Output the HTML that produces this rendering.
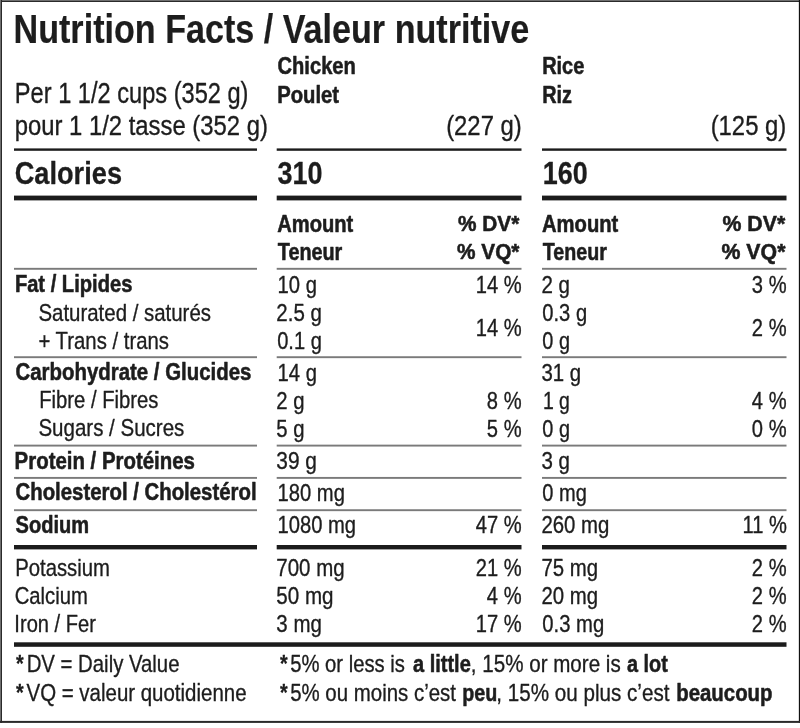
<!DOCTYPE html>
<html><head><meta charset="utf-8"><title>Nutrition Facts / Valeur nutritive</title>
<style>
html,body{margin:0;padding:0;background:#fff;}
body{width:800px;height:728px;overflow:hidden;font-family:"Liberation Sans",sans-serif;}
svg{display:block;position:absolute;left:0;top:0;will-change:transform;filter:grayscale(1);}
svg text{font-family:"Liberation Sans",sans-serif;fill:#1d1d1d;stroke:#1d1d1d;stroke-linejoin:round;white-space:pre;}
</style></head><body>
<svg width="800" height="728" viewBox="0 0 800 728">
<rect x="0" y="0" width="800" height="728" fill="#fff"/>
<rect x="0" y="0" width="800" height="1" fill="#6f6f6f"/>
<rect x="0" y="1" width="800" height="1" fill="#2a2a2a"/>
<rect x="0" y="0" width="1" height="722.9" fill="#6f6f6f"/>
<rect x="1" y="0" width="1" height="722.9" fill="#2a2a2a"/>
<rect x="798.85" y="0" width="1.15" height="722.9" fill="#111"/>
<rect x="0" y="720.9" width="800" height="2" fill="#2a2a2a"/>
<rect x="14" y="148.4" width="243" height="2.4" fill="#1c1c1c"/>
<rect x="276.7" y="148.4" width="244.8" height="2.4" fill="#1c1c1c"/>
<rect x="542" y="148.4" width="244.5" height="2.4" fill="#1c1c1c"/>
<rect x="14" y="195.6" width="243" height="4.8" fill="#1c1c1c"/>
<rect x="276.7" y="195.6" width="244.8" height="4.8" fill="#1c1c1c"/>
<rect x="542" y="195.6" width="244.5" height="4.8" fill="#1c1c1c"/>
<rect x="14" y="267.85" width="243" height="1.9" fill="#7a7a7a"/>
<rect x="276.7" y="267.85" width="244.8" height="1.9" fill="#7a7a7a"/>
<rect x="542" y="267.85" width="244.5" height="1.9" fill="#7a7a7a"/>
<rect x="14" y="356.25" width="243" height="1.9" fill="#7a7a7a"/>
<rect x="276.7" y="356.25" width="244.8" height="1.9" fill="#7a7a7a"/>
<rect x="542" y="356.25" width="244.5" height="1.9" fill="#7a7a7a"/>
<rect x="14" y="444.65" width="243" height="1.9" fill="#7a7a7a"/>
<rect x="276.7" y="444.65" width="244.8" height="1.9" fill="#7a7a7a"/>
<rect x="542" y="444.65" width="244.5" height="1.9" fill="#7a7a7a"/>
<rect x="14" y="476.95" width="243" height="1.9" fill="#7a7a7a"/>
<rect x="276.7" y="476.95" width="244.8" height="1.9" fill="#7a7a7a"/>
<rect x="542" y="476.95" width="244.5" height="1.9" fill="#7a7a7a"/>
<rect x="14" y="509.25" width="243" height="1.9" fill="#7a7a7a"/>
<rect x="276.7" y="509.25" width="244.8" height="1.9" fill="#7a7a7a"/>
<rect x="542" y="509.25" width="244.5" height="1.9" fill="#7a7a7a"/>
<rect x="14" y="545.0" width="243" height="4.4" fill="#1c1c1c"/>
<rect x="276.7" y="545.0" width="244.8" height="4.4" fill="#1c1c1c"/>
<rect x="542" y="545.0" width="244.5" height="4.4" fill="#1c1c1c"/>
<rect x="14" y="642.3" width="772.5" height="4.5" fill="#1c1c1c"/>
<text transform="translate(13.52 43.00) scale(0.8387 1)" font-size="40.70" font-weight="700" stroke-width="0.2">Nutrition Facts / Valeur nutritive</text>
<text transform="translate(14.85 103.00) scale(0.8250 1)" font-size="28.63" font-weight="400" stroke-width="0.35">Per 1 1/2 cups (352 g)</text>
<text transform="translate(14.64 135.00) scale(0.8643 1)" font-size="27.62" font-weight="400" stroke-width="0.35">pour 1 1/2 tasse (352 g)</text>
<text transform="translate(277.50 74.00) scale(0.8667 1)" font-size="23.26" font-weight="700" stroke-width="0.55">Chicken</text>
<text transform="translate(277.13 103.00) scale(0.8714 1)" font-size="23.26" font-weight="700" stroke-width="0.55">Poulet</text>
<text transform="translate(446.14 135.00) scale(0.8647 1)" font-size="27.62" font-weight="400" stroke-width="0.35">(227 g)</text>
<text transform="translate(542.14 74.00) scale(0.8594 1)" font-size="23.26" font-weight="700" stroke-width="0.55">Rice</text>
<text transform="translate(542.15 103.00) scale(0.8529 1)" font-size="23.26" font-weight="700" stroke-width="0.55">Riz</text>
<text transform="translate(710.64 135.00) scale(0.8647 1)" font-size="27.62" font-weight="400" stroke-width="0.35">(125 g)</text>
<text transform="translate(14.65 184.00) scale(0.8508 1)" font-size="31.98" font-weight="700" stroke-width="0.3">Calories</text>
<text transform="translate(277.60 184.00) scale(0.8442 1)" font-size="31.98" font-weight="700" stroke-width="0.3">310</text>
<text transform="translate(542.66 184.00) scale(0.8431 1)" font-size="31.98" font-weight="700" stroke-width="0.3">160</text>
<text transform="translate(277.20 232.00) scale(0.8670 1)" font-size="23.26" font-weight="700" stroke-width="0.55">Amount</text>
<text transform="translate(277.80 260.00) scale(0.8513 1)" font-size="23.26" font-weight="700" stroke-width="0.55">Teneur</text>
<text transform="translate(458.00 231.00) scale(0.9538 1)" font-size="21.80" font-weight="700" stroke-width="0.55">% DV*</text>
<text transform="translate(457.00 259.00) scale(0.9545 1)" font-size="21.80" font-weight="700" stroke-width="0.55">% VQ*</text>
<text transform="translate(542.00 232.00) scale(0.8693 1)" font-size="23.26" font-weight="700" stroke-width="0.55">Amount</text>
<text transform="translate(542.70 260.00) scale(0.8461 1)" font-size="23.26" font-weight="700" stroke-width="0.55">Teneur</text>
<text transform="translate(722.50 231.00) scale(0.9769 1)" font-size="21.80" font-weight="700" stroke-width="0.55">% DV*</text>
<text transform="translate(721.50 259.00) scale(0.9773 1)" font-size="21.80" font-weight="700" stroke-width="0.55">% VQ*</text>
<text transform="translate(14.88 292.00) scale(0.8657 1)" font-size="23.26" font-weight="700" stroke-width="0.55">Fat / Lipides</text>
<text transform="translate(277.55 293.00) scale(0.8489 1)" font-size="23.84" font-weight="400" stroke-width="0.35">10 g</text>
<text transform="translate(541.44 293.00) scale(0.8613 1)" font-size="23.84" font-weight="400" stroke-width="0.35">2 g</text>
<text transform="translate(475.87 293.00) scale(0.8450 1)" font-size="23.84" font-weight="400" stroke-width="0.35">14 %</text>
<text transform="translate(751.86 293.00) scale(0.8450 1)" font-size="23.84" font-weight="400" stroke-width="0.35">3 %</text>
<text transform="translate(38.42 321.00) scale(0.8273 1)" font-size="24.71" font-weight="400" stroke-width="0.35">Saturated / saturés</text>
<text transform="translate(276.34 321.00) scale(0.8588 1)" font-size="23.84" font-weight="400" stroke-width="0.35">2.5 g</text>
<text transform="translate(542.30 321.00) scale(0.8452 1)" font-size="23.84" font-weight="400" stroke-width="0.35">0.3 g</text>
<text transform="translate(38.43 349.00) scale(0.8232 1)" font-size="24.71" font-weight="400" stroke-width="0.35">+ Trans / trans</text>
<text transform="translate(277.20 349.00) scale(0.8423 1)" font-size="23.84" font-weight="400" stroke-width="0.35">0.1 g</text>
<text transform="translate(542.30 349.00) scale(0.8344 1)" font-size="23.84" font-weight="400" stroke-width="0.35">0 g</text>
<text transform="translate(15.50 380.00) scale(0.8778 1)" font-size="23.26" font-weight="700" stroke-width="0.55">Carbohydrate / Glucides</text>
<text transform="translate(277.55 381.00) scale(0.8489 1)" font-size="23.84" font-weight="400" stroke-width="0.35">14 g</text>
<text transform="translate(541.44 381.00) scale(0.8568 1)" font-size="23.84" font-weight="400" stroke-width="0.35">31 g</text>
<text transform="translate(39.18 408.00) scale(0.8194 1)" font-size="24.71" font-weight="400" stroke-width="0.35">Fibre / Fibres</text>
<text transform="translate(276.35 409.00) scale(0.8516 1)" font-size="23.84" font-weight="400" stroke-width="0.35">2 g</text>
<text transform="translate(542.88 409.00) scale(0.8161 1)" font-size="23.84" font-weight="400" stroke-width="0.35">1 g</text>
<text transform="translate(486.86 409.00) scale(0.8450 1)" font-size="23.84" font-weight="400" stroke-width="0.35">8 %</text>
<text transform="translate(751.86 409.00) scale(0.8450 1)" font-size="23.84" font-weight="400" stroke-width="0.35">4 %</text>
<text transform="translate(38.42 436.00) scale(0.8305 1)" font-size="24.71" font-weight="400" stroke-width="0.35">Sugars / Sucres</text>
<text transform="translate(276.35 437.00) scale(0.8516 1)" font-size="23.84" font-weight="400" stroke-width="0.35">5 g</text>
<text transform="translate(542.30 437.00) scale(0.8344 1)" font-size="23.84" font-weight="400" stroke-width="0.35">0 g</text>
<text transform="translate(486.86 437.00) scale(0.8450 1)" font-size="23.84" font-weight="400" stroke-width="0.35">5 %</text>
<text transform="translate(751.86 437.00) scale(0.8450 1)" font-size="23.84" font-weight="400" stroke-width="0.35">0 %</text>
<text transform="translate(14.62 469.00) scale(0.8775 1)" font-size="23.26" font-weight="700" stroke-width="0.55">Protein / Protéines</text>
<text transform="translate(276.32 469.00) scale(0.8761 1)" font-size="23.84" font-weight="400" stroke-width="0.35">39 g</text>
<text transform="translate(541.44 469.00) scale(0.8613 1)" font-size="23.84" font-weight="400" stroke-width="0.35">3 g</text>
<text transform="translate(15.50 500.00) scale(0.8759 1)" font-size="23.26" font-weight="700" stroke-width="0.55">Cholesterol / Cholestérol</text>
<text transform="translate(277.55 501.00) scale(0.8474 1)" font-size="23.84" font-weight="400" stroke-width="0.35">180 mg</text>
<text transform="translate(542.30 501.00) scale(0.8404 1)" font-size="23.84" font-weight="400" stroke-width="0.35">0 mg</text>
<text transform="translate(15.50 533.00) scale(0.8631 1)" font-size="23.26" font-weight="700" stroke-width="0.55">Sodium</text>
<text transform="translate(277.55 533.00) scale(0.8473 1)" font-size="23.84" font-weight="400" stroke-width="0.35">1080 mg</text>
<text transform="translate(541.44 533.00) scale(0.8551 1)" font-size="23.84" font-weight="400" stroke-width="0.35">260 mg</text>
<text transform="translate(475.87 533.00) scale(0.8450 1)" font-size="23.84" font-weight="400" stroke-width="0.35">47 %</text>
<text transform="translate(742.56 533.00) scale(0.8450 1)" font-size="23.84" font-weight="400" stroke-width="0.35">11 %</text>
<text transform="translate(15.18 576.00) scale(0.8221 1)" font-size="24.71" font-weight="400" stroke-width="0.35">Potassium</text>
<text transform="translate(276.34 576.00) scale(0.8596 1)" font-size="23.84" font-weight="400" stroke-width="0.35">700 mg</text>
<text transform="translate(541.45 576.00) scale(0.8547 1)" font-size="23.84" font-weight="400" stroke-width="0.35">75 mg</text>
<text transform="translate(475.87 576.00) scale(0.8450 1)" font-size="23.84" font-weight="400" stroke-width="0.35">21 %</text>
<text transform="translate(751.86 576.00) scale(0.8450 1)" font-size="23.84" font-weight="400" stroke-width="0.35">2 %</text>
<text transform="translate(14.68 604.00) scale(0.8195 1)" font-size="24.71" font-weight="400" stroke-width="0.35">Calcium</text>
<text transform="translate(276.34 604.00) scale(0.8641 1)" font-size="23.84" font-weight="400" stroke-width="0.35">50 mg</text>
<text transform="translate(541.45 604.00) scale(0.8547 1)" font-size="23.84" font-weight="400" stroke-width="0.35">20 mg</text>
<text transform="translate(486.86 604.00) scale(0.8450 1)" font-size="23.84" font-weight="400" stroke-width="0.35">4 %</text>
<text transform="translate(751.86 604.00) scale(0.8450 1)" font-size="23.84" font-weight="400" stroke-width="0.35">2 %</text>
<text transform="translate(14.37 632.00) scale(0.8133 1)" font-size="24.71" font-weight="400" stroke-width="0.35">Iron / Fer</text>
<text transform="translate(276.34 632.00) scale(0.8588 1)" font-size="23.84" font-weight="400" stroke-width="0.35">3 mg</text>
<text transform="translate(542.30 632.00) scale(0.8500 1)" font-size="23.84" font-weight="400" stroke-width="0.35">0.3 mg</text>
<text transform="translate(475.87 632.00) scale(0.8450 1)" font-size="23.84" font-weight="400" stroke-width="0.35">17 %</text>
<text transform="translate(751.86 632.00) scale(0.8450 1)" font-size="23.84" font-weight="400" stroke-width="0.35">2 %</text>
<text transform="translate(475.87 336.00) scale(0.8450 1)" font-size="23.84" font-weight="400" stroke-width="0.35">14 %</text>
<text transform="translate(751.86 336.00) scale(0.8450 1)" font-size="23.84" font-weight="400" stroke-width="0.35">2 %</text>
<text transform="translate(16.00 672.00) scale(0.8000 1)" font-size="24.71" font-weight="700" stroke-width="0.3">*</text>
<text transform="translate(26.68 672.00) scale(0.8234 1)" font-size="24.71" font-weight="400" stroke-width="0.35">DV = Daily Value</text>
<text transform="translate(16.00 701.00) scale(0.8000 1)" font-size="24.71" font-weight="700" stroke-width="0.3">*</text>
<text transform="translate(26.50 701.00) scale(0.8283 1)" font-size="24.71" font-weight="400" stroke-width="0.35">VQ = valeur quotidienne</text>
<text transform="translate(280.00 672.00) scale(0.8000 1)" font-size="24.71" font-weight="700" stroke-width="0.3">*</text>
<text transform="translate(290.18 672.00) scale(0.8201 1)" font-size="24.71" font-weight="400" stroke-width="0.35">5% or less is</text>
<text transform="translate(413.00 672.00) scale(0.8099 1)" font-size="24.71" font-weight="700" stroke-width="0.55">a little</text>
<text transform="translate(470.83 672.00) scale(0.8333 1)" font-size="24.71" font-weight="400" stroke-width="0.35">, 15% or more is</text>
<text transform="translate(627.00 672.00) scale(0.8039 1)" font-size="24.71" font-weight="700" stroke-width="0.55">a lot</text>
<text transform="translate(280.00 701.00) scale(0.8000 1)" font-size="24.71" font-weight="700" stroke-width="0.3">*</text>
<text transform="translate(290.17 701.00) scale(0.8275 1)" font-size="24.71" font-weight="400" stroke-width="0.35">5% ou moins c’est</text>
<text transform="translate(462.20 701.00) scale(0.7976 1)" font-size="24.71" font-weight="700" stroke-width="0.55">peu</text>
<text transform="translate(496.33 701.00) scale(0.8350 1)" font-size="24.71" font-weight="400" stroke-width="0.35">, 15% ou plus c’est</text>
<text transform="translate(676.17 701.00) scale(0.8261 1)" font-size="24.71" font-weight="700" stroke-width="0.55">beaucoup</text>
</svg>
</body></html>
